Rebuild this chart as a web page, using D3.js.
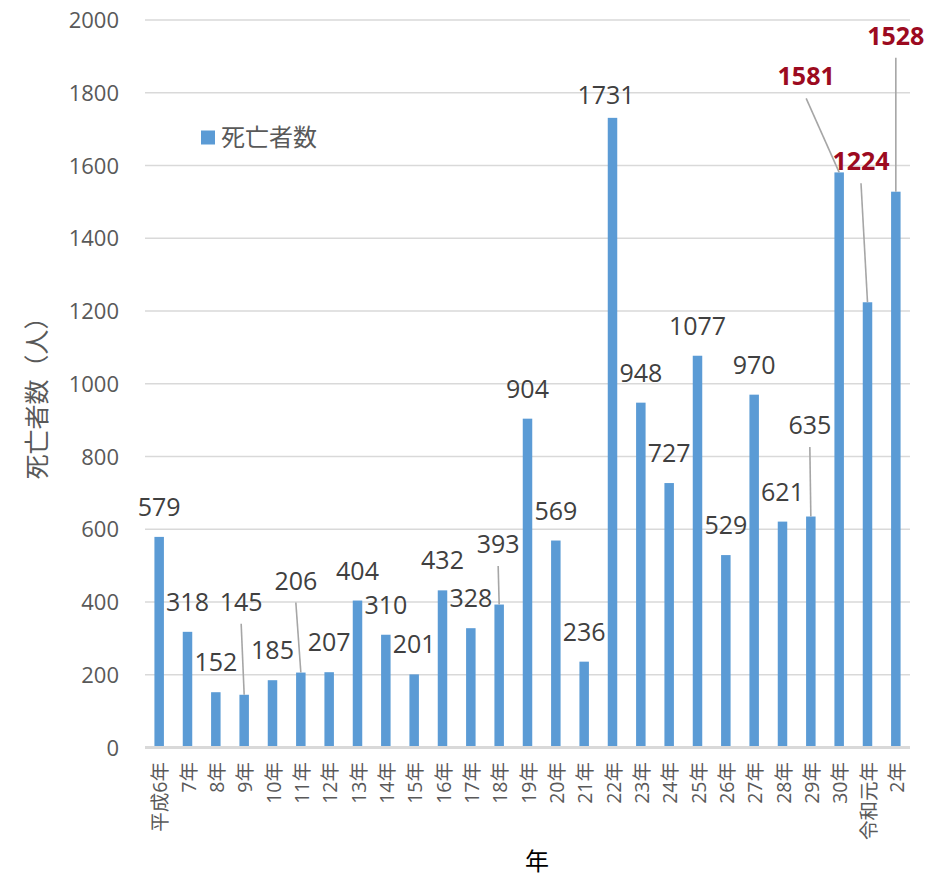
<!DOCTYPE html>
<html>
<head>
<meta charset="utf-8">
<script src="https://cdn.jsdelivr.net/npm/d3@7"></script>
<style>
  html, body { margin: 0; padding: 0; background: #fff; }
  svg { display: block; }
</style>
</head>
<body>
<svg id="chart" width="946" height="876"></svg>
<script>
// ---- data ----
const categories = ["平成6年","7年","8年","9年","10年","11年","12年","13年","14年","15年","16年","17年","18年","19年","20年","21年","22年","23年","24年","25年","26年","27年","28年","29年","30年","令和元年","2年"];
const deaths = [579,318,152,145,185,206,207,404,310,201,432,328,393,904,569,236,1731,948,727,1077,529,970,621,635,1581,1224,1528];
const highlighted = ["30年","令和元年","2年"];
const yTicks = [0,200,400,600,800,1000,1200,1400,1600,1800,2000];
const seriesName = "死亡者数";
const xTitle = "年";
const yTitle = "死亡者数（人）";

// manual label shifts (pixels) for labels moved away from their bars
const labelShift = {
  "9年": [-3, -63],
  "11年": [-5, -62],
  "18年": [-1, -30.5],
  "22年": [-6.5, 7],
  "29年": [-1, -61.5],
  "30年": [-33, -66],
  "令和元年": [-6.5, -111],
  "2年": [0, -126]
};

// ---- layout ----
const svg = d3.select("#chart");
const numFont = "'Open Sans', 'Noto Sans CJK JP', sans-serif";
const cjkFont = "'Noto Sans CJK JP', 'Open Sans', sans-serif";

const x = d3.scaleBand().domain(categories).range([145, 910]).paddingInner(0.665).paddingOuter(0.3325);
const y = d3.scaleLinear().domain([0, 2000]).range([747.5, 20]);

// gridlines
svg.append("g").selectAll("line").data(yTicks.filter(d => d > 0)).join("line")
  .attr("x1", 145).attr("x2", 910)
  .attr("y1", d => y(d)).attr("y2", d => y(d))
  .attr("stroke", "#d9d9d9").attr("stroke-width", 1.4);

// y axis labels
const yAxis = d3.axisLeft(y).tickValues(yTicks).tickFormat(d3.format("d")).tickSize(0).tickPadding(0);
const gy = svg.append("g").attr("transform", "translate(119,0)").call(yAxis);
gy.select(".domain").remove();
gy.selectAll("text").attr("font-family", numFont).attr("font-size", 22).attr("fill", "#595959").attr("dy", "0.35em");

// bars
const data = categories.map((c, i) => ({ c, v: deaths[i] }));
svg.append("g").selectAll("rect").data(data).join("rect")
  .attr("x", d => x(d.c)).attr("width", x.bandwidth())
  .attr("y", d => y(d.v)).attr("height", d => y(0) - y(d.v))
  .attr("fill", "#5b9bd5");

// baseline
svg.append("line").attr("x1", 145).attr("x2", 910).attr("y1", y(0)).attr("y2", y(0))
  .attr("stroke", "#d9d9d9").attr("stroke-width", 3);

// x axis labels (rotated)
const xAxis = d3.axisBottom(x).tickSize(0).tickPadding(0);
const gx = svg.append("g").attr("transform", "translate(0,762)").call(xAxis);
gx.select(".domain").remove();
gx.selectAll("text")
  .attr("font-family", numFont).attr("font-size", 19.5).attr("fill", "#595959")
  .attr("text-anchor", "end").attr("x", 0).attr("y", 0).attr("dy", "0.35em")
  .attr("transform", "translate(1.5,0) rotate(-90)");

// data labels
const cx = d => x(d.c) + x.bandwidth() / 2;
const labelPos = d => {
  const s = labelShift[d.c] || [0, 0];
  return [cx(d) + s[0], y(d.v) - 30 + s[1]];
};

// leader lines
svg.append("g").selectAll("line").data(data.filter(d => labelShift[d.c] && labelShift[d.c][1] < -25)).join("line")
  .attr("x1", d => labelPos(d)[0]).attr("y1", d => labelPos(d)[1] + 22)
  .attr("x2", d => cx(d)).attr("y2", d => y(d.v))
  .attr("stroke", "#a6a6a6").attr("stroke-width", 1.6);

svg.append("g").selectAll("text").data(data).join("text")
  .attr("x", d => labelPos(d)[0]).attr("y", d => labelPos(d)[1])
  .attr("dy", "0.36em").attr("text-anchor", "middle")
  .attr("font-family", numFont).attr("font-size", 25)
  .attr("font-weight", d => highlighted.includes(d.c) ? "bold" : "normal")
  .attr("fill", d => highlighted.includes(d.c) ? "#9c0a20" : "#404040")
  .text(d => d.v);

// legend
svg.append("rect").attr("x", 201).attr("y", 130.5).attr("width", 14).attr("height", 14).attr("fill", "#5b9bd5");
svg.append("text").attr("x", 221).attr("y", 137.5).attr("dy", "0.36em")
  .attr("font-family", cjkFont).attr("font-size", 24).attr("fill", "#595959").text(seriesName);

// axis titles
svg.append("text").attr("x", 537).attr("y", 861).attr("dy", "0.36em").attr("text-anchor", "middle")
  .attr("font-family", cjkFont).attr("font-size", 24).attr("fill", "#000").text(xTitle);
svg.append("text").attr("transform", "translate(37,392) rotate(-90)").attr("dy", "0.36em").attr("text-anchor", "middle")
  .attr("font-family", cjkFont).attr("font-size", 25).attr("fill", "#595959").text(yTitle);
</script>
</body>
</html>
